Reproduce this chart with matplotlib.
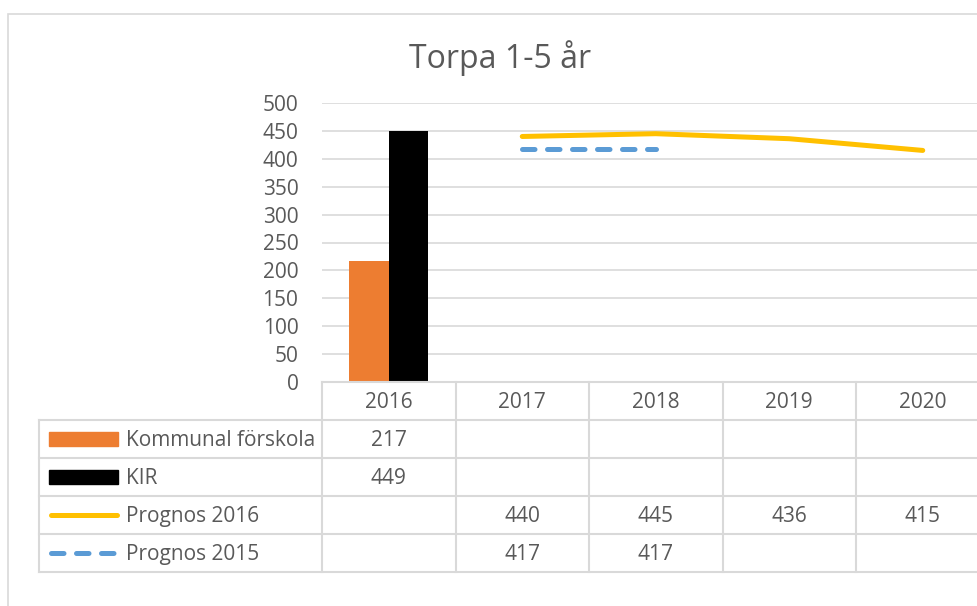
import numpy as np
import matplotlib.pyplot as plt
from matplotlib.patches import Rectangle
from matplotlib.lines import Line2D

# data
years = ['2016', '2017', '2018', '2019', '2020']
kommunal = [217, np.nan, np.nan, np.nan, np.nan]
kir = [449, np.nan, np.nan, np.nan, np.nan]
prognos_2016 = [np.nan, 440, 445, 436, 415]
prognos_2015 = [np.nan, 417, 417, np.nan, np.nan]

series_names = ['Kommunal förskola', 'KIR', 'Prognos 2016', 'Prognos 2015']
series_vals = [kommunal, kir, prognos_2016, prognos_2015]

plt.rcParams['font.family'] = ['Open Sans', 'DejaVu Sans']
txt = '#595959'
grid = '#d9d9d9'
orange = '#ED7D31'
yellow = '#FFC000'
blue = '#5B9BD5'
fs = 15

W, H = 978, 606
fig = plt.figure(figsize=(W / 100, H / 100), dpi=100)

# outer chart border
fig.patches.append(Rectangle((8 / W, -0.1), 1.2, (H - 14) / H + 0.1, transform=fig.transFigure,
                             fill=False, edgecolor=grid, linewidth=1.2))

fig.text(500 / W, 1 - 58 / H, 'Torpa 1-5 år', ha='center', va='center', fontsize=23, color=txt)

col_w = 133.5
def px2x(px):
    return -0.5 + (px - 322) / col_w

x = np.arange(len(years))
xr = px2x(978)

ax = fig.add_axes([322 / W, (H - 382) / H, (978 - 322) / W, (382 - 103) / H])
ax.set_xlim(-0.5, xr)
ax.set_ylim(0, 500)
ax.set_yticks(range(0, 501, 50))
ax.tick_params(axis='y', length=0, pad=17, labelsize=fs, labelcolor=txt)
ax.set_xticks([])
for s in ax.spines.values():
    s.set_visible(False)
ax.grid(axis='y', color=grid, linewidth=1.2)
ax.set_axisbelow(True)

bw = 39.5 / col_w
ax.bar(x - bw / 2, kommunal, width=bw, color=orange, zorder=2)
ax.bar(x + bw / 2, kir, width=bw, color='black', zorder=2)
ax.plot(x, prognos_2016, color=yellow, linewidth=3.6, solid_capstyle='round', zorder=3)
ax.plot(x, prognos_2015, color=blue, linewidth=3.6, dash_capstyle='round',
        dashes=(2.5, 2.5), zorder=3)

# data table
tab = fig.add_axes([39 / W, (H - 572) / H, (978 - 39) / W, 190 / H])
xl = px2x(39)
tab.set_xlim(xl, xr)
tab.set_ylim(0, 5)
tab.axis('off')
lk = dict(color=grid, linewidth=1.5, clip_on=False)
tab.plot([-0.5, xr + 1], [5, 5], **lk)
for yy in range(5):
    tab.plot([xl, xr + 1], [yy, yy], **lk)
tab.plot([xl, xl], [0, 4], **lk)
for i in range(len(years)):
    tab.plot([i - 0.5, i - 0.5], [0, 5], **lk)

dy = -0.04
for i, yr in enumerate(years):
    tab.text(i, 4.5 + dy, yr, ha='center', va='center', fontsize=fs, color=txt)

for r, (name, vals) in enumerate(zip(series_names, series_vals)):
    yc = 3.5 - r
    tab.text(px2x(126), yc + dy, name, ha='left', va='center', fontsize=fs, color=txt)
    for i, v in enumerate(vals):
        if not np.isnan(v):
            tab.text(i, yc + dy, f'{v:g}', ha='center', va='center', fontsize=fs, color=txt)

kx0, kx1 = px2x(49), px2x(118)
tab.add_patch(Rectangle((kx0, 3.5 - 7 / 38), kx1 - kx0, 14 / 38, color=orange))
tab.add_patch(Rectangle((kx0, 2.5 - 7 / 38), kx1 - kx0, 14 / 38, color='black'))
tab.add_line(Line2D([px2x(51), px2x(117)], [1.5, 1.5], color=yellow, linewidth=3.6,
                    solid_capstyle='round'))
tab.add_line(Line2D([px2x(51), px2x(117)], [0.5, 0.5], color=blue, linewidth=3.6,
                    dash_capstyle='round', dashes=(2.5, 2.5)))

fig.savefig('out.png', dpi=100)
